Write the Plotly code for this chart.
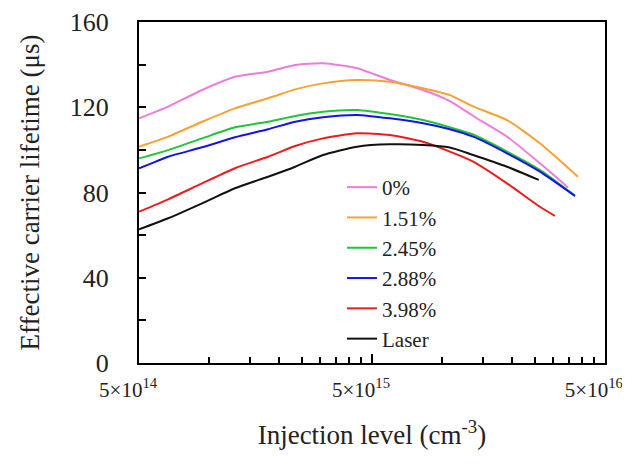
import plotly.graph_objects as go

# Injection level (cm^-3) sample points
x_common = [5.0e14, 6.66e14, 9.32e14, 1.29e15, 1.79e15, 2.34e15, 3.08e15, 4.31e15,
            5.97e15, 8.28e15, 1.08e16, 1.36e16, 1.90e16, 2.63e16]

x_pink = x_common + [3.47e16]
y_pink = [114.8, 120.3, 128.1, 134.3, 136.7, 139.8, 140.6, 138.3,
          132.8, 128.1, 122.9, 115.9, 106.2, 93.7, 82.4]

x_orange = x_common + [3.83e16]
y_orange = [101.5, 106.2, 113.2, 119.5, 124.2, 128.4, 131.2, 132.8,
            132.0, 128.9, 125.7, 120.4, 114.0, 103.1, 87.4]

x_green = x_common + [3.72e16]
y_green = [96.0, 99.9, 105.4, 110.6, 113.2, 115.9, 117.9, 118.7,
           116.8, 114.0, 110.6, 107.2, 99.2, 90.6, 78.4]

x_blue = [5.0e14, 5.9e14] + x_common[1:] + [3.72e16]
y_blue = [91.4, 94.5, 96.8, 101.2, 105.9, 109.7, 113.2, 115.3, 116.4,
          114.8, 112.5, 109.7, 106.2, 98.4, 89.8, 78.4]

x_red = x_common + [3.05e16]
y_red = [71.0, 76.8, 84.3, 91.4, 96.8, 101.8, 105.4, 107.8,
         107.0, 103.8, 99.2, 94.5, 84.3, 73.3, 69.0]

x_black = x_common[:-1] + [2.60e16]
y_black = [62.7, 67.9, 74.9, 82.0, 87.4, 92.1, 97.6, 101.5,
           102.6, 102.3, 101.1, 97.6, 92.1, 85.9]

series = [
    ("0%", x_pink, y_pink, "#EE7CDD"),
    ("1.51%", x_orange, y_orange, "#F7A233"),
    ("2.45%", x_green, y_green, "#22C43A"),
    ("2.88%", x_blue, y_blue, "#1414E6"),
    ("3.98%", x_red, y_red, "#EE1C1C"),
    ("Laser", x_black, y_black, "#111111"),
]

x_major = [5e14, 5e15, 5e16]
x_major_text = ["5×10<sup>14</sup>", "5×10<sup>15</sup>", "5×10<sup>16</sup>"]
x_minor = [1e15, 1.5e15, 2e15, 2.5e15, 3e15, 3.5e15, 4e15, 4.5e15,
           1e16, 1.5e16, 2e16, 2.5e16, 3e16, 3.5e16, 4e16, 4.5e16]
y_ticks = [0, 40, 80, 120, 160]
y_minor = [20, 60, 100, 140]

FONT = "Liberation Serif"

fig = go.Figure()
for name, xs, ys, c in series:
    fig.add_trace(go.Scatter(x=xs, y=ys, mode="lines", name=name,
                             line=dict(color=c, width=2, shape="spline", smoothing=0.6)))

# page body adds an 8px margin; figure sized to fit the 630x464 window
fig.update_layout(
    width=622, height=456,
    margin=dict(l=131, r=25, t=14, b=101, autoexpand=False),
    plot_bgcolor="white", paper_bgcolor="white",
    font=dict(family=FONT, size=23, color="#222222"),
    showlegend=True,
    legend=dict(x=(342 - 139) / 466, y=(363 - 167) / 341, xanchor="left", yanchor="top",
                bgcolor="rgba(0,0,0,0)", font=dict(size=21, family=FONT),
                tracegroupgap=0, itemwidth=30),
    xaxis=dict(
        type="log", range=[14.6985, 16.6995],
        tickmode="array", tickvals=x_major, ticktext=x_major_text,
        ticks="inside", ticklen=9, tickwidth=2, tickcolor="black",
        minor=dict(tickmode="array", tickvals=x_minor, ticks="inside", ticklen=6,
                   tickwidth=2, tickcolor="black", showgrid=False),
        showline=True, linecolor="black", linewidth=2, mirror=True,
        showgrid=False, zeroline=False, automargin=False,
        tickfont=dict(size=21, family=FONT),
        ticklabelstandoff=7, ticklabeloverflow="allow", ticklabelshift=-11,
        title=dict(text="Injection level (cm<sup>-3</sup>)", standoff=24,
                   font=dict(size=27, family=FONT)),
    ),
    yaxis=dict(
        range=[0, 160],
        tickmode="array", tickvals=y_ticks,
        ticks="inside", ticklen=7, tickwidth=2, tickcolor="black",
        minor=dict(tickmode="array", tickvals=y_minor, ticks="inside", ticklen=7,
                   tickwidth=2, tickcolor="black", showgrid=False),
        showline=True, linecolor="black", linewidth=2, mirror=True,
        showgrid=False, zeroline=False, automargin=False,
        tickfont=dict(size=26, family=FONT),
        ticklabelstandoff=23,
        title=dict(text="Effective carrier lifetime (μs)", standoff=22,
                   font=dict(size=27, family=FONT)),
    ),
)

fig.write_html("out.html")
